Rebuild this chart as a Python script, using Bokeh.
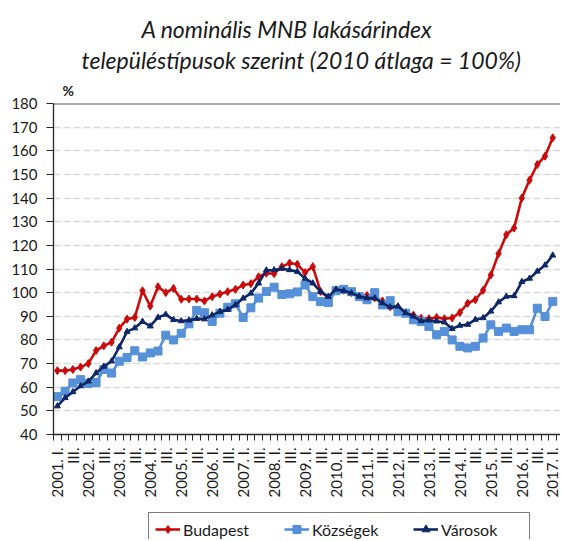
import math
from bokeh.plotting import figure
from bokeh.layouts import column
from bokeh.models import FixedTicker, Span, Title, Legend, LegendItem
from bokeh.embed import file_html
from bokeh.resources import INLINE

# ---- data (quarterly, 2001 Q1 .. 2017 Q1) ----
years = list(range(2001, 2018))
quarter_names = ["I.", "II.", "III.", "IV."]
periods = [(y, q) for y in years for q in quarter_names][:65]

budapest = [67.0, 67.0, 67.5, 68.5, 70.0, 75.5, 77.5, 79.0, 85.0, 88.8, 89.5, 100.8,
            94.3, 102.5, 100.0, 101.8, 97.2, 97.3, 97.3, 96.5, 98.3, 99.4, 100.4, 101.4,
            103.2, 103.8, 106.7, 108.2, 108.0, 111.0, 112.5, 112.0, 108.5, 111.0, 100.5, 97.8,
            101.0, 101.0, 100.0, 98.5, 98.8, 97.8, 96.5, 94.0, 94.0, 91.5, 90.5, 89.2,
            89.0, 89.5, 89.0, 89.3, 91.6, 95.5, 97.0, 101.0, 107.5, 116.5, 124.5, 127.3,
            140.0, 147.6, 154.2, 157.7, 165.5]
kozsegek = [56.0, 58.3, 61.8, 63.2, 61.6, 62.0, 67.5, 66.0, 71.0, 72.6, 75.4, 72.8,
            74.5, 75.3, 82.0, 80.0, 82.8, 86.8, 92.5, 91.5, 87.8, 91.3, 93.8, 95.3,
            89.5, 93.6, 97.7, 100.5, 102.3, 99.2, 99.5, 100.3, 103.2, 98.3, 96.2, 95.8,
            100.8, 101.4, 100.4, 98.3, 97.0, 100.0, 94.8, 96.6, 92.0, 91.3, 88.5, 87.8,
            85.7, 82.2, 83.6, 80.0, 77.3, 76.6, 77.3, 80.8, 86.4, 83.6, 85.0, 83.6,
            84.3, 84.3, 93.4, 89.9, 96.3]
varosok = [52.0, 55.5, 58.0, 60.5, 62.5, 66.0, 68.8, 71.0, 77.0, 83.5, 85.0, 87.8,
           85.8, 89.5, 90.8, 88.5, 88.0, 88.3, 89.0, 88.8, 90.5, 92.0, 92.8, 94.8,
           97.6, 99.7, 104.0, 109.5, 109.6, 110.2, 109.6, 108.9, 106.0, 104.0, 100.4, 98.3,
           101.4, 100.8, 99.8, 98.4, 97.7, 97.7, 95.6, 93.9, 94.2, 91.4, 90.0, 88.0,
           88.3, 87.9, 87.5, 84.7, 86.1, 86.5, 88.6, 89.3, 92.1, 96.0, 98.4, 98.6,
           104.6, 106.0, 109.0, 111.6, 115.8]
y_ticks = [40, 50, 60, 70, 80, 90, 100, 110, 120, 130, 140, 150, 160, 170, 180]
series_names = ["Budapest", "Községek", "Városok"]

x = list(range(len(periods)))
tick_labels = {}
for i, (yr, q) in enumerate(periods):
    if q == "I.":
        tick_labels[i] = f"{yr}. I."
    elif q == "III.":
        tick_labels[i] = "III."
    else:
        tick_labels[i] = ""

RED = "#CC0A0A"
LBLUE = "#5590D8"
NAVY = "#0E2766"
FONT = "Lato"
TXT = "#1a1a1a"

p = figure(width=560, height=505, output_backend="svg", toolbar_location=None,
           title=None, x_range=(-0.5, 65.0), y_range=(40, 180),
           min_border_left=53, min_border_right=0, min_border_top=103,
           min_border_bottom=71)
p.background_fill_color = "white"
p.border_fill_color = "white"
p.outline_line_color = None
p.xgrid.visible = False
p.ygrid.grid_line_color = "#D9D9D9"
p.ygrid.grid_line_dash = "7 3"
p.ygrid.grid_line_width = 1.3

# y axis
ya = p.yaxis[0]
ya.ticker = FixedTicker(ticks=y_ticks)
ya.axis_line_color = "#262626"
ya.axis_line_width = 1.3
ya.major_tick_line_color = "#262626"
ya.major_tick_out = 7
ya.major_tick_in = 0
ya.minor_tick_line_color = None
ya.major_label_standoff = 9
ya.major_label_text_font = FONT
ya.major_label_text_font_size = "15px"
ya.major_label_text_color = TXT

# x axis
xa = p.xaxis[0]
xa.ticker = FixedTicker(ticks=x, minor_ticks=[i - 0.5 for i in range(len(x) + 1)])
xa.axis_line_color = "#262626"
xa.axis_line_width = 1.3
xa.major_tick_out = 0
xa.major_tick_in = 0
xa.minor_tick_out = 6
xa.minor_tick_in = 0
xa.minor_tick_line_color = "#262626"
xa.major_label_overrides = tick_labels
xa.major_label_orientation = math.pi / 2
xa.major_label_standoff = 7
xa.major_label_text_font = FONT
xa.major_label_text_font_size = "15px"
xa.major_label_text_color = TXT

p.add_layout(Span(location=180, dimension="width", line_color="#595959", line_width=2))

styles = [dict(color=RED, marker="diamond", size=8),
          dict(color=LBLUE, marker="square", size=8),
          dict(color=NAVY, marker="triangle", size=6)]
for vals, st in zip([budapest, kozsegek, varosok], styles):
    p.line(x, vals, line_color=st["color"], line_width=2.6)
    p.scatter(x, vals, marker=st["marker"], size=st["size"], color=st["color"])

# titles (stacked outward from the frame)
t_pct = Title(text="%", align="left", offset=9, text_font=FONT, text_font_size="14px",
              text_color=TXT, standoff=9)
p.add_layout(t_pct, "above")
t2 = Title(text="településtípusok szerint (2010 átlaga = 100%)", align="left",
           text_font=FONT, text_font_style="italic", text_font_size="23px",
           text_color=TXT, standoff=3, offset=28)
p.add_layout(t2, "above")
t1 = Title(text="A nominális MNB lakásárindex", align="left",
           text_font=FONT, text_font_style="italic", text_font_size="23px",
           text_color=TXT, standoff=0, offset=88)
p.add_layout(t1, "above")

# legend strip below the chart (its frame is aligned with the chart frame)
lf = figure(width=560, height=34, output_backend="svg", toolbar_location=None,
            title=None, min_border_left=0, min_border_right=0, min_border_top=0,
            min_border_bottom=0, x_range=(0, 1), y_range=(0, 1))
lf.axis.visible = False
lf.grid.visible = False
lf.outline_line_color = None
items = []
for name, st in zip(series_names, styles):
    lr = lf.line([-5, -4], [-5, -4], line_color=st["color"], line_width=2.6)
    ls = lf.scatter([-5], [-5], marker=st["marker"], size=st["size"], color=st["color"])
    items.append(LegendItem(label=name, renderers=[lr, ls]))
legend = Legend(items=items, orientation="horizontal", location=(95, -7),
                border_line_color="black", border_line_width=1,
                label_text_font=FONT, label_text_font_size="16px",
                label_text_color=TXT, glyph_width=25, label_standoff=3,
                label_width=82, spacing=19, padding=6, margin=0)
lf.add_layout(legend, "center")

open("out.html", "w").write(file_html(column(p, lf), INLINE))
